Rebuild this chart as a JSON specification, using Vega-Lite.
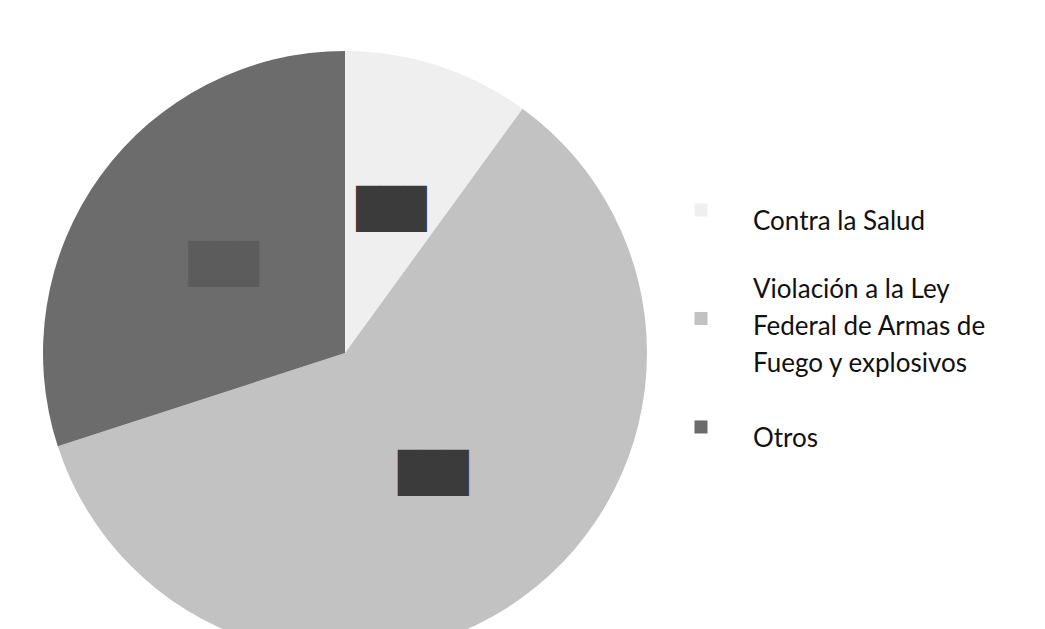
{
  "$schema": "https://vega.github.io/schema/vega-lite/v6.json",
  "padding": 0,
  "spacing": 4,
  "background": "white",
  "config": {"view": {"stroke": null}},
  "data": {
    "values": [
      {"Delito": "Contra la Salud", "Etiqueta": ["Contra la Salud"], "Porcentaje": 10, "Orden": 1},
      {"Delito": "Violación a la Ley Federal de Armas de Fuego y explosivos", "Etiqueta": ["Violación a la Ley", "Federal de Armas de", "Fuego y explosivos"], "Porcentaje": 60, "Orden": 2},
      {"Delito": "Otros", "Etiqueta": ["Otros"], "Porcentaje": 30, "Orden": 3}
    ]
  },
  "hconcat": [
    {
      "width": 690,
      "height": 706,
      "encoding": {
        "theta": {"field": "Porcentaje", "type": "quantitative", "stack": true},
        "order": {"field": "Orden", "type": "ordinal"}
      },
      "layer": [
        {
          "mark": {"type": "arc", "outerRadius": 302, "stroke": null},
          "encoding": {
            "color": {
              "field": "Delito",
              "type": "nominal",
              "scale": {
                "domain": ["Contra la Salud", "Violación a la Ley Federal de Armas de Fuego y explosivos", "Otros"],
                "range": ["#efefef", "#c2c2c2", "#6c6c6c"]
              },
              "legend": null
            }
          }
        },
        {
          "mark": {
            "type": "text",
            "radius": 150,
            "text": "███",
            "font": "DejaVu Sans Mono",
            "fontSize": 39,
            "align": "center",
            "baseline": "middle"
          },
          "encoding": {
            "color": {
              "condition": {"test": "datum.Delito == 'Otros'", "value": "#5c5c5c"},
              "value": "#3b3b3b"
            }
          }
        }
      ]
    },
    {
      "width": 351,
      "height": 629,
      "encoding": {
        "x": {"datum": 0, "type": "quantitative", "scale": {"domain": [0, 1], "nice": false}, "axis": null},
        "y": {
          "field": "Orden",
          "type": "quantitative",
          "scale": {"domain": [-0.935, 4.862], "reverse": true, "nice": false, "zero": false},
          "axis": null
        }
      },
      "layer": [
        {
          "mark": {"type": "point", "shape": "square", "filled": true, "size": 170, "opacity": 1},
          "encoding": {
            "color": {"field": "Delito", "type": "nominal", "legend": null}
          }
        },
        {
          "transform": [{"filter": "datum.Orden != 2"}],
          "mark": {
            "type": "text",
            "align": "left",
            "baseline": "middle",
            "dx": 52,
            "dy": 12,
            "font": "Lato",
            "fontSize": 26,
            "lineHeight": 37,
            "color": "#111111"
          },
          "encoding": {"text": {"field": "Etiqueta"}}
        },
        {
          "transform": [{"filter": "datum.Orden == 2"}],
          "mark": {
            "type": "text",
            "align": "left",
            "baseline": "middle",
            "dx": 52,
            "dy": -28,
            "font": "Lato",
            "fontSize": 26,
            "lineHeight": 37,
            "color": "#111111"
          },
          "encoding": {"text": {"field": "Etiqueta"}}
        }
      ]
    }
  ]
}
